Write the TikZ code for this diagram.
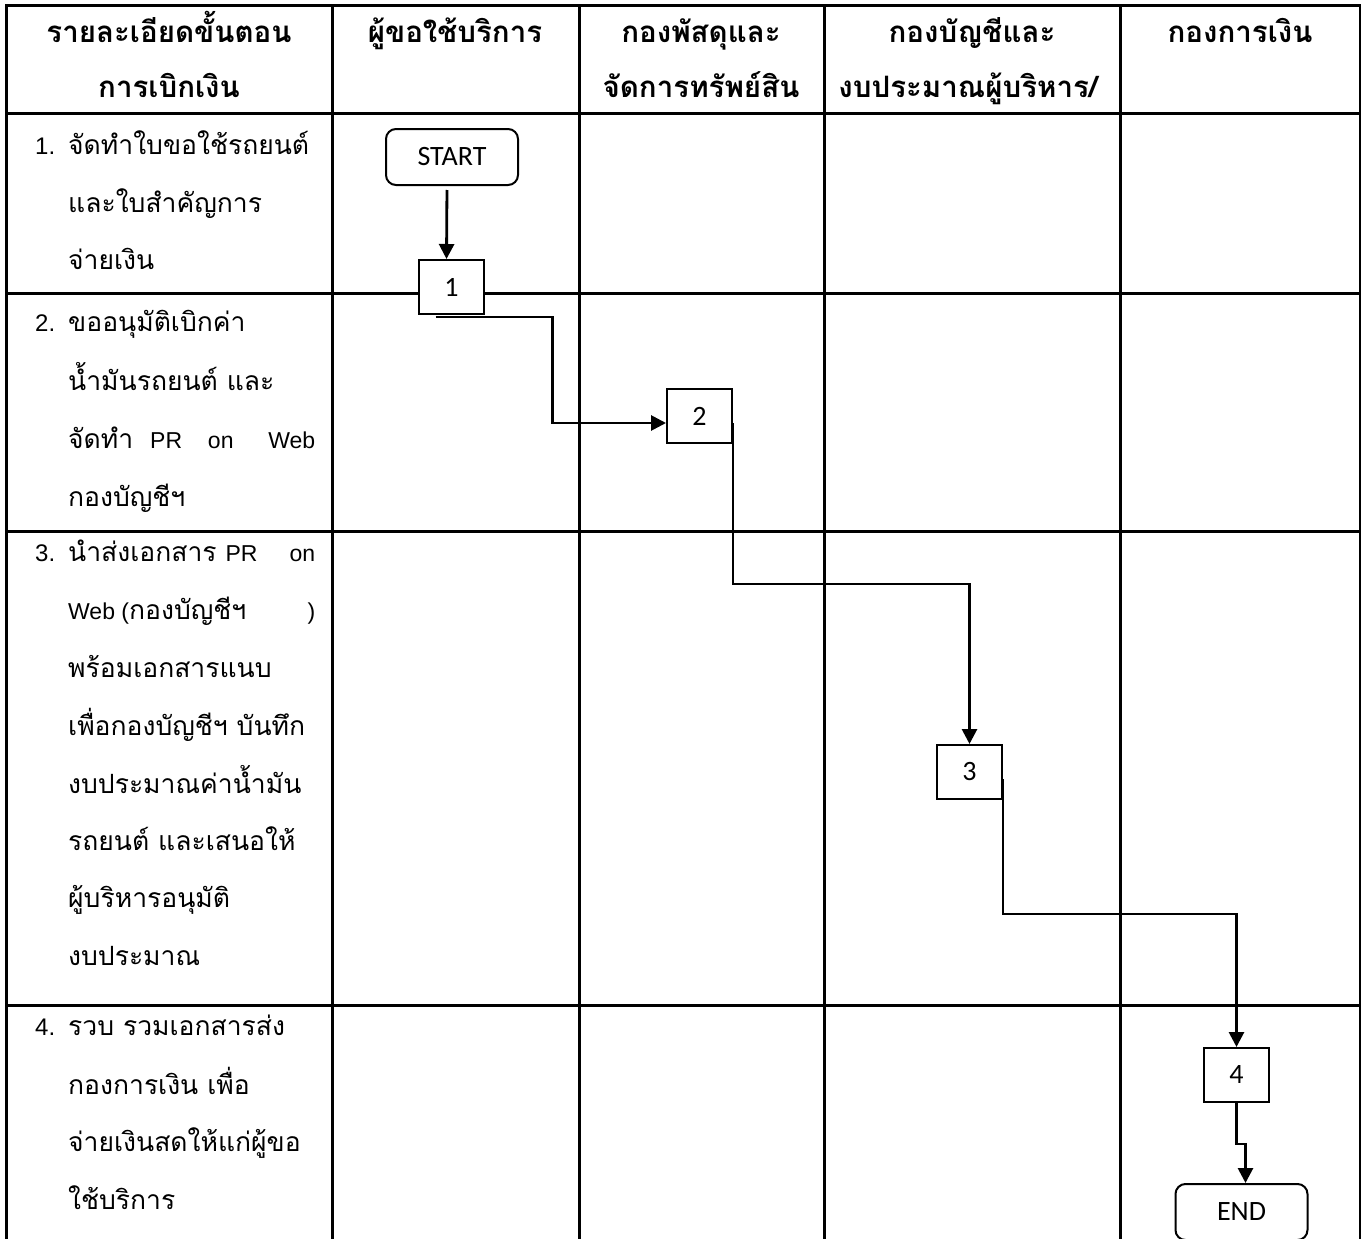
\documentclass[tikz,border=0pt]{standalone}
\usepackage{fontspec}
\newfontfamily\thaifont[Script=Thai]{Loma}
\newfontfamily\latfont{Liberation Sans}
\newfontfamily\boxfont{Carlito}
\newcommand\latw[1]{{\latfont\fontsize{23}{26}\selectfont #1}}
\usetikzlibrary{arrows.meta}
\begin{document}
\begin{tikzpicture}[x=1pt,y=-1pt,
  grid/.style={line width=3pt},
  hd/.style={font=\thaifont\bfseries\fontsize{29.5}{32}\selectfont, inner sep=0pt, anchor=base},
  tx/.style={font=\thaifont\fontsize{26.5}{30}\selectfont, inner sep=0pt, anchor=base west},
  num/.style={font=\latfont\fontsize{24}{26}\selectfont, inner sep=0pt, anchor=base west},
  stepbox/.style={draw, line width=2pt, fill=white, minimum width=65pt, minimum height=54pt,
    font=\boxfont\fontsize{28}{30}\selectfont, inner sep=0pt},
  term/.style={stepbox, rounded corners=10pt, minimum width=132pt, minimum height=56pt},
  conn/.style={line width=2.8pt, -{Triangle[length=15pt,width=15pt]}}
]
\useasboundingbox (0,0) rectangle (1361,1239);

% table grid
\draw[grid] (6,6) -- (1360,6);
\draw[grid] (6,113) -- (1360,113);
\draw[grid] (6,293) -- (1360,293);
\draw[grid] (6,531) -- (1360,531);
\draw[grid] (6,1005) -- (1360,1005);
\foreach \gx in {6,332,579,824,1120,1360} \draw[grid] (\gx,4.5) -- (\gx,1245);

% header
\node[hd] (h1a) at (169,43) {รายละเอียดขั้นตอน};
\node[hd] (h1b) at (169,97) {การเบิกเงิน};
\node[hd] (h2a) at (455,43) {ผู้ขอใช้บริการ};
\node[hd] (h3a) at (701,43) {กองพัสดุและ};
\node[hd] (h3b) at (701,97) {จัดการทรัพย์สิน};
\node[hd] (h4a) at (972,43) {กองบัญชีและ};
\node[hd] (h4b) at (968,97) {งบประมาณผู้บริหาร/};
\node[hd] (h5a) at (1240,43) {กองการเงิน};

% row 1
\node[num] (n1) at (35,154) {1.};
\node[tx] (r1a) at (68,154) {จัดทำใบขอใช้รถยนต์};
\node[tx] (r1b) at (68,212) {และใบสำคัญการ};
\node[tx] (r1c) at (68,269) {จ่ายเงิน};

% row 2
\node[num] (n2) at (35,331) {2.};
\node[tx] (r2a) at (68,331) {ขออนุมัติเบิกค่า};
\node[tx] (r2b) at (68,390) {น้ำมันรถยนต์ และ};
\node[tx] (r2c) at (68,448) {\hbox to 247pt{จัดทำ\hskip 8pt plus 1fil\latw{PR}\hskip 8pt plus 2fil\latw{on}\hskip 8pt plus 3fil\latw{Web}}};
\node[tx] (r2d) at (68,506) {กองบัญชีฯ};

% row 3
\node[num] (n3) at (35,561) {3.};
\node[tx] (r3a) at (68,561) {\hbox to 247pt{นำส่งเอกสาร \latw{PR}\hfill\latw{on}}};
\node[tx] (r3b) at (68,619) {\hbox to 247pt{\latw{Web (}กองบัญชีฯ\hfill\latw{)}}};
\node[tx] (r3c) at (68,677) {พร้อมเอกสารแนบ};
\node[tx] (r3d) at (68,735) {เพื่อกองบัญชีฯ บันทึก};
\node[tx] (r3e) at (68,793) {งบประมาณค่าน้ำมัน};
\node[tx] (r3f) at (68,850) {รถยนต์ และเสนอให้};
\node[tx] (r3g) at (68,907) {ผู้บริหารอนุมัติ};
\node[tx] (r3h) at (68,965) {งบประมาณ};

% row 4
\node[num] (n4) at (35,1035) {4.};
\node[tx] (r4a) at (68,1035) {รวบ รวมเอกสารส่ง};
\node[tx] (r4b) at (68,1094) {กองการเงิน เพื่อ};
\node[tx] (r4c) at (68,1151) {จ่ายเงินสดให้แก่ผู้ขอ};
\node[tx] (r4d) at (68,1209) {ใช้บริการ};

% flow nodes
\node[term] (start) at (452,157) {START};
\node[stepbox] (b1) at (451.5,287) {1};
\node[stepbox] (b2) at (699.5,416) {2};
\node[stepbox] (b3) at (969.5,772) {3};
\node[stepbox] (b4) at (1236.5,1075) {4};
\node[term] (end) at (1241.5,1212) {END};

% connectors
\draw[conn, shorten <=4pt] ([xshift=-5pt]start.south) -- ([xshift=-5pt]b1.north);
\draw[conn] ([xshift=-16pt,yshift=-2pt]b1.south) -- ++(117,0) |- ([yshift=-7pt]b2.west);
\draw[conn] ([yshift=-7pt]b2.east) -- ++(0,161) -| (b3.north);
\draw[conn] ([yshift=-7pt]b3.east) -- ++(0,135) -| (b4.north);
\draw[conn] (b4.south) -- ++(0,41) -- ++(9,0) -- ([xshift=4pt]end.north);
\end{tikzpicture}
\end{document}
